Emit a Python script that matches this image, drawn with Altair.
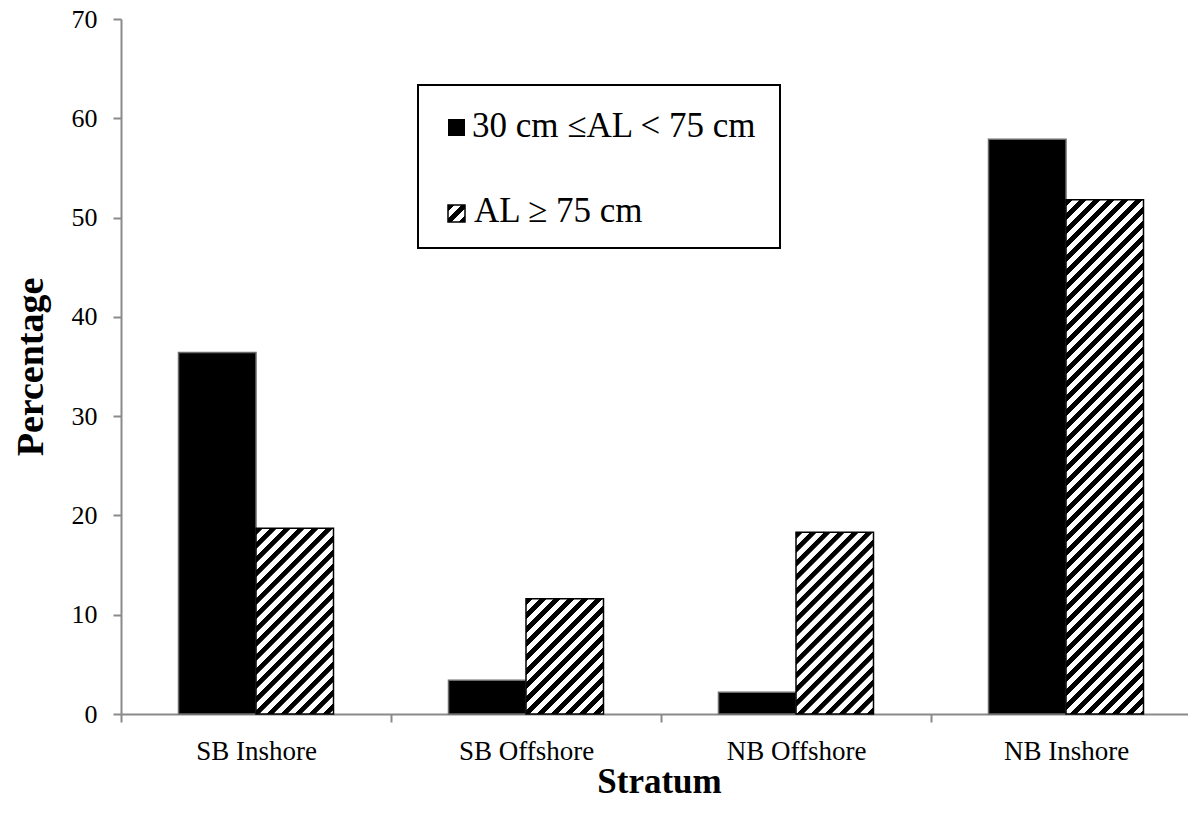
import json
import math
import altair as alt
import pandas as pd

# ---- data ----
strata = ["SB Inshore", "SB Offshore", "NB Offshore", "NB Inshore"]
series = ["30 cm \u2264AL < 75 cm", "AL \u2265 75 cm"]
values_small = [36.4, 3.4, 2.2, 57.9]   # 30 cm <= AL < 75 cm
values_large = [18.7, 11.6, 18.3, 51.8]  # AL >= 75 cm
y_ticks = [0, 10, 20, 30, 40, 50, 60, 70]

rows = []
for i, s in enumerate(strata):
    rows.append({"stratum": s, "series": series[0], "value": values_small[i]})
    rows.append({"stratum": s, "series": series[1], "value": values_large[i]})
df = pd.DataFrame(rows)

# ---- layout constants ----
PLOT_W = 1067
PLOT_H = 695
BAND = 270
Y_MAX = 70
PAD_OUTER = 0.742
BAR_W = BAND / (2 + 2 * PAD_OUTER)
PX = PLOT_H / Y_MAX
FONT = "Liberation Serif, Times New Roman, serif"
AXIS_GREY = "#8a8a8a"

# ---- hatch pattern as a striped linear gradient ----
PERIOD = 9.9
N_PER = 60
L = PERIOD * N_PER
FRAC = 0.47
stops = []
for i in range(N_PER):
    a = i / N_PER
    b = (i + FRAC) / N_PER
    c = (i + 1) / N_PER
    stops += [
        {"offset": round(a, 5), "color": "black"},
        {"offset": round(b, 5), "color": "black"},
        {"offset": round(b + 0.0004, 5), "color": "white"},
        {"offset": round(c - 0.0004, 5), "color": "white"},
    ]
stops_js = json.dumps(stops)
SQ2L = math.sqrt(2) * L
H = f"(datum.value*{PX})"
den = f"({BAR_W * BAR_W} + {H}*{H})"
grad_expr = (
    f"datum.series === {json.dumps(series[0])} ? 'black' : "
    f"{{gradient: 'linear', x1: 0, y1: 0, "
    f"x2: {SQ2L}*{BAR_W}/{den}, y2: {SQ2L}*{H}/{den}, stops: {stops_js}}}"
)

bars = (
    alt.Chart(df)
    .transform_calculate(fillval=grad_expr)
    .mark_bar(strokeWidth=1.5)
    .encode(
        x=alt.X(
            "stratum:N",
            sort=strata,
            scale=alt.Scale(domain=strata, range=[0, BAND * 4], paddingInner=0, paddingOuter=0),
            axis=alt.Axis(
                title="Stratum",
                labelAngle=0,
                tickBand="extent",
                tickSize=8,
                labelPadding=16,
                titleX=538,
                titleY=67,
                titleFontSize=35,
                titleBaseline="middle",
            ),
        ),
        xOffset=alt.XOffset(
            "series:N",
            sort=series,
            scale=alt.Scale(domain=series, paddingOuter=PAD_OUTER, paddingInner=0),
        ),
        y=alt.Y(
            "value:Q",
            stack=None,
            scale=alt.Scale(domain=[0, Y_MAX], nice=False),
            axis=alt.Axis(
                title="Percentage",
                values=y_ticks,
                tickSize=8,
                labelPadding=16,
                labelFontSize=26,
                titleX=-90,
                titleY=PLOT_H / 2,
                titleAngle=-90,
                titleFontSize=38,
                titleBaseline="middle",
                titleAlign="center",
            ),
        ),
        fill=alt.Fill("fillval:N", scale=None, legend=None),
        stroke=alt.Stroke(
            "series:N", scale=alt.Scale(domain=series, range=["#6b6b6b", "black"]), legend=None
        ),
    )
)

one = alt.Data(values=[{"k": 0}])

legend_box = alt.Chart(one).mark_rect(fill="white", stroke="black", strokeWidth=2).encode(
    x=alt.value(297), x2=alt.value(659), y=alt.value(66), y2=alt.value(229)
)
sq_black = alt.Chart(one).mark_rect(fill="black").encode(
    x=alt.value(327), x2=alt.value(344), y=alt.value(100), y2=alt.value(117)
)
SQ = 17
leg_grad = {
    "gradient": "linear",
    "x1": 0,
    "y1": 0,
    "x2": SQ2L * SQ / (2 * SQ * SQ),
    "y2": SQ2L * SQ / (2 * SQ * SQ),
    "stops": stops,
}
sq_hatch = alt.Chart(one).mark_rect(fill=leg_grad, stroke="black", strokeWidth=1.5).encode(
    x=alt.value(327), x2=alt.value(344), y=alt.value(186), y2=alt.value(203)
)
txt1 = alt.Chart(one).mark_text(
    align="left", baseline="alphabetic", font=FONT, fontSize=35, color="black"
).encode(x=alt.value(351), y=alt.value(118), text=alt.value(series[0]))
txt2 = alt.Chart(one).mark_text(
    align="left", baseline="alphabetic", font=FONT, fontSize=35, color="black"
).encode(x=alt.value(353), y=alt.value(203), text=alt.value(series[1]))

chart = (
    alt.layer(bars, legend_box, sq_black, sq_hatch, txt1, txt2)
    .properties(
        width=PLOT_W,
        height=PLOT_H,
        autosize=alt.AutoSizeParams(type="none"),
        padding={"left": 113, "top": 11, "right": 0, "bottom": 91},
    )
    .configure_view(strokeWidth=0)
    .configure_axis(
        labelFont=FONT,
        titleFont=FONT,
        labelFontSize=27,
        titleFontSize=34,
        titleFontWeight="bold",
        labelColor="black",
        titleColor="black",
        domainColor=AXIS_GREY,
        tickColor=AXIS_GREY,
        domainWidth=2,
        tickWidth=2,
        grid=False,
    )
)

chart.save("out.html", embed_options={"renderer": "svg", "actions": False})
